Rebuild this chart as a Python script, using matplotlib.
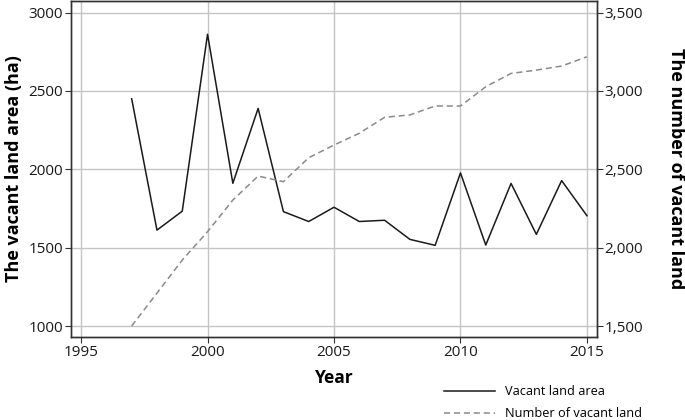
import matplotlib.pyplot as plt
from matplotlib.ticker import FuncFormatter

plt.rcParams['font.family'] = ['Open Sans', 'DejaVu Sans']

# Data
years = [1997, 1998, 1999, 2000, 2001, 2002, 2003, 2004, 2005, 2006,
         2007, 2008, 2009, 2010, 2011, 2012, 2013, 2014, 2015]
vacant_area = [2450, 1612, 1733, 2862, 1911, 2389, 1730, 1667, 1758, 1667,
               1675, 1553, 1515, 1977, 1517, 1910, 1585, 1928, 1704]
vacant_number = [1500, 1710, 1921, 2102, 2304, 2457, 2421, 2574, 2655, 2730,
                 2832, 2847, 2904, 2904, 3027, 3112, 3133, 3159, 3218]

left_ticks = [1000, 1500, 2000, 2500, 3000]
right_ticks = [1500, 2000, 2500, 3000, 3500]
x_ticks = [1995, 2000, 2005, 2010, 2015]

fig = plt.figure(figsize=(6.85, 4.2), dpi=100)
ax = fig.add_axes([0.1036, 0.1976, 0.768, 0.800])
ax2 = ax.twinx()

l1, = ax.plot(years, vacant_area, color='#1a1a1a', linewidth=1.1,
              label='Vacant land area', zorder=3)
l2, = ax2.plot(years, vacant_number, color='#8a8a8a', linewidth=1.1,
               linestyle=(0, (4, 2.5)), label='Number of vacant land', zorder=3)

ax.set_xlim(1994.6, 2015.4)
ax.set_ylim(930, 3074)
ax2.set_ylim(1430, 3574)

ax.set_xticks(x_ticks)
ax.set_yticks(left_ticks)
ax2.set_yticks(right_ticks)
ax2.yaxis.set_major_formatter(FuncFormatter(lambda v, p: f'{int(v):,}'))

ax.grid(True, color='#c4c4c4', linewidth=1.0)
ax.set_axisbelow(True)

for a in (ax, ax2):
    a.tick_params(labelsize=11, length=4, width=0.8, color='#333333',
                  labelcolor='#1a1a1a', pad=1.5)
    for s in a.spines.values():
        s.set_color('#333333')
        s.set_linewidth(1.0)

ax.set_xlabel('Year', fontsize=12.5, fontweight='bold', labelpad=7)
ax.set_ylabel('The vacant land area (ha)', fontsize=13, fontweight='bold', labelpad=4)
ax2.set_ylabel('The number of vacant land', fontsize=13, fontweight='bold',
               rotation=-90, labelpad=30)

fig.legend(handles=[l1, l2], loc='upper left', bbox_to_anchor=(0.640, 0.095),
           frameon=False, fontsize=9.2, handlelength=4.0, handletextpad=0.8,
           labelspacing=0.72, borderaxespad=0)

fig.savefig('out.png', dpi=100)
